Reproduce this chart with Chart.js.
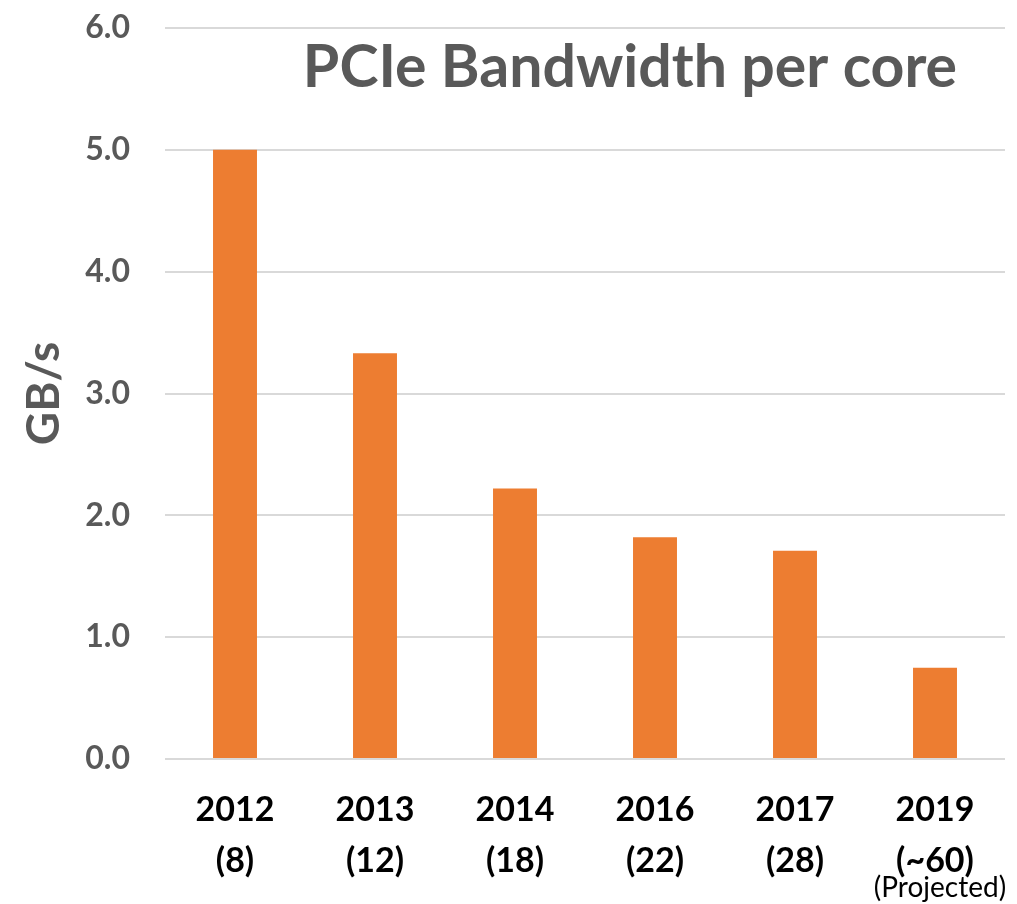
<!DOCTYPE html>
<html>
<head>
<meta charset="utf-8">
<script src="https://cdn.jsdelivr.net/npm/chart.js@4"></script>
<style>
  html, body { margin: 0; padding: 0; background: #fff; }
  #wrap { width: 1017px; height: 904px; }
</style>
</head>
<body>
<div id="wrap"><canvas id="chart" width="1017" height="904"></canvas></div>
<script>
// chart data
const years = ['2012', '2013', '2014', '2016', '2017', '2019'];
const coreCounts = ['(8)', '(12)', '(18)', '(22)', '(28)', '(~60)'];
const bandwidthPerCore = [5.0, 3.33, 2.22, 1.82, 1.71, 0.75];
const yTicks = [0, 1, 2, 3, 4, 5, 6];
const chartTitle = 'PCIe Bandwidth per core';
const yAxisTitle = 'GB/s';
const projectedNote = '(Projected)';
const projectedIndex = 5;

const labels = years.map((y, i) => [y, coreCounts[i]]);

// draws the title inside the plot and the "(Projected)" note under the last label
const extraText = {
    id: 'extraText',
    afterDraw(chart) {
        const ctx = chart.ctx;
        const area = chart.chartArea;
        const xScale = chart.scales.x;
        ctx.save();
        ctx.fillStyle = '#595959';
        ctx.font = 'bold 59px Lato';
        ctx.textAlign = 'center';
        ctx.textBaseline = 'middle';
        ctx.fillText(chartTitle, 630, area.top + 40);

        ctx.fillStyle = '#000';
        ctx.font = '28px Lato';
        ctx.fillText(projectedNote, xScale.getPixelForTick(projectedIndex) + 5, 888);
        ctx.restore();
    }
};

const ctx = document.getElementById('chart').getContext('2d');
new Chart(ctx, {
    type: 'bar',
    data: {
        labels: labels,
        datasets: [{
            data: bandwidthPerCore,
            backgroundColor: '#ed7d31',
            categoryPercentage: 1,
            barPercentage: 0.314
        }]
    },
    options: {
        responsive: false,
        animation: false,
        layout: { padding: { top: 28, right: 12, left: 0, bottom: 0 } },
        plugins: {
            legend: { display: false },
            tooltip: { enabled: false }
        },
        scales: {
            x: {
                grid: { display: false },
                border: { display: false },
                ticks: {
                    color: '#000',
                    font: { family: 'Lato', size: 34, weight: 'bold', lineHeight: 1.5 },
                    padding: 18,
                    maxRotation: 0
                },
                afterFit(scale) { scale.height = 145; }
            },
            y: {
                min: 0,
                max: 6,
                afterBuildTicks(scale) { scale.ticks = yTicks.map(v => ({ value: v })); },
                grid: { color: '#d9d9d9', lineWidth: 2, drawTicks: false },
                border: { display: false },
                ticks: {
                    color: '#595959',
                    font: { family: 'Lato', size: 32, weight: 'bold' },
                    padding: 35,
                    callback: v => v.toFixed(1)
                },
                title: {
                    display: true,
                    text: yAxisTitle,
                    color: '#595959',
                    font: { family: 'Lato', size: 46, weight: 'bold' },
                    padding: { top: 17, bottom: 0 }
                },
                afterFit(scale) {
                    scale.width = 165;
                    scale.paddingTop = 0;
                    scale.paddingBottom = 0;
                }
            }
        }
    },
    plugins: [extraText]
});
</script>
</body>
</html>
